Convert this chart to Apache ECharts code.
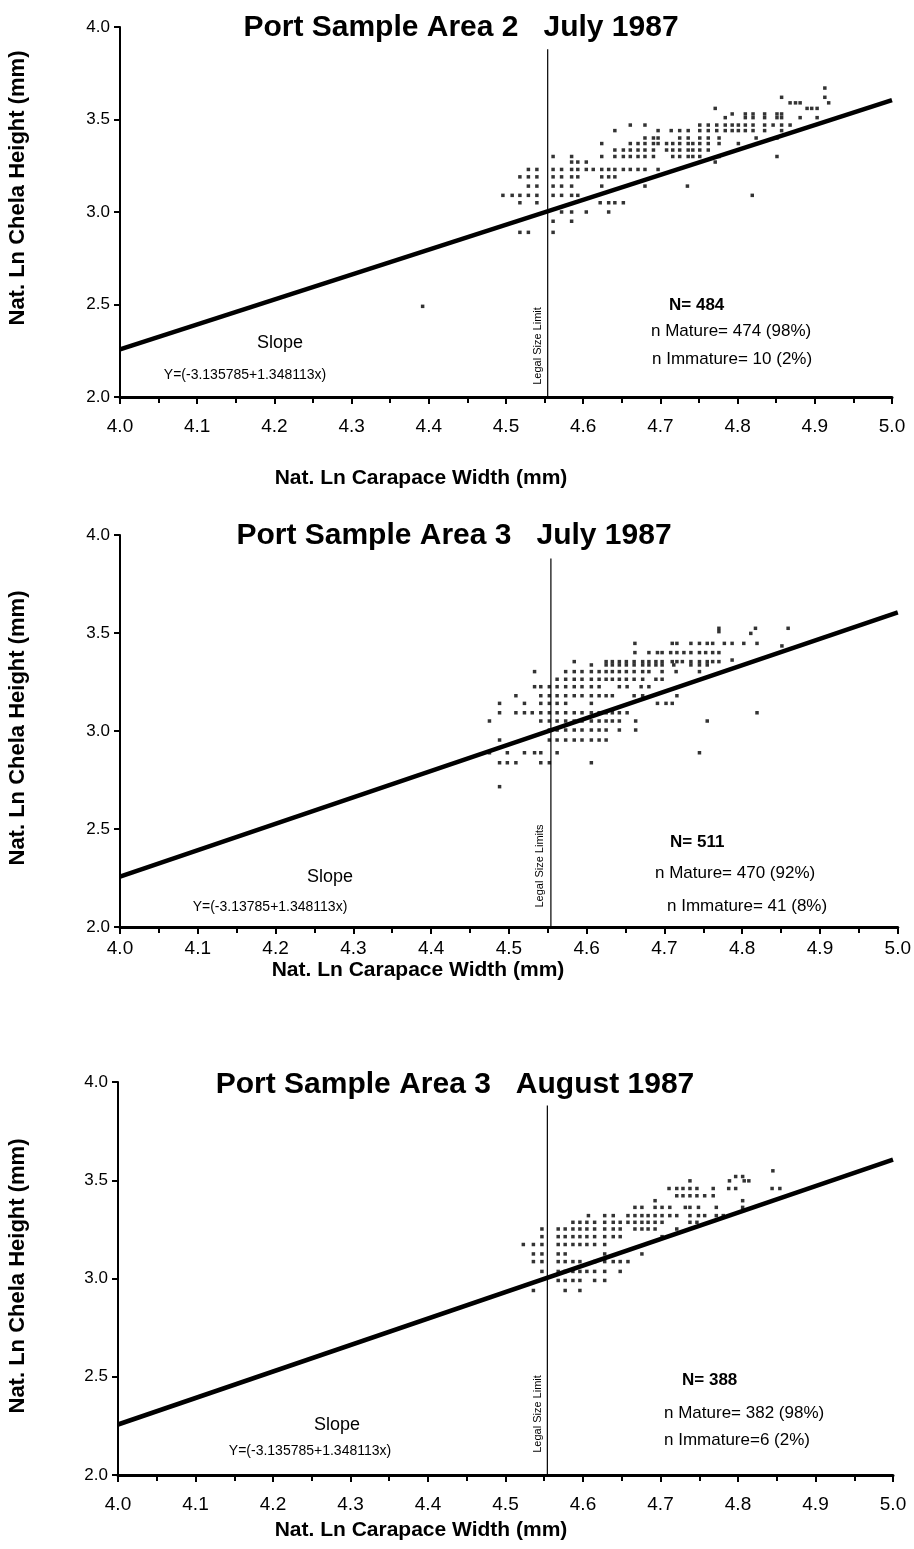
<!DOCTYPE html>
<html><head><meta charset="utf-8">
<script src="https://cdn.jsdelivr.net/npm/echarts@6/dist/echarts.min.js"></script>
<style>html,body{margin:0;padding:0;background:#fff}#c{width:914px;height:1549px}</style>
</head><body><div id="c"></div>
<script>
// ---------- data ----------
const xTickValues = [4.0, 4.1, 4.2, 4.3, 4.4, 4.5, 4.6, 4.7, 4.8, 4.9, 5.0];
const yTickValues = [2.0, 2.5, 3.0, 3.5, 4.0];
const legalSizeLimit = 4.554;
const legalLineTop = 3.88;
const regressionEnds = [[4.0, 2.257], [5.0, 3.605]];   // Y = -3.135785 + 1.348113x

const panelTitles = ['Port Sample Area 2   July 1987', 'Port Sample Area 3   July 1987', 'Port Sample Area 3   August 1987'];
const slopeTexts = ['Y=(-3.135785+1.348113x)', 'Y=(-3.13785+1.348113x)', 'Y=(-3.135785+1.348113x)'];
const legalTexts = ['Legal Size Limit', 'Legal Size Limits', 'Legal Size Limit'];
const nTexts = ['N= 484', 'N= 511', 'N= 388'];
const matureTexts = ['n Mature= 474 (98%)', 'n Mature= 470 (92%)', 'n Mature= 382 (98%)'];
const immatureTexts = ['n Immature= 10 (2%)', 'n Immature= 41 (8%)', 'n Immature=6 (2%)'];

// rows: [chela height (ln), [carapace widths (ln)]]
const area2JulyRows = [
  [3.67, [4.913]],
  [3.62, [4.857, 4.913]],
  [3.59, [4.868, 4.875, 4.881, 4.918]],
  [3.56, [4.771, 4.890, 4.896, 4.903]],
  [3.53, [4.793, 4.810, 4.820, 4.835, 4.851, 4.857]],
  [3.51, [4.784, 4.810, 4.820, 4.835, 4.851, 4.857, 4.881, 4.903]],
  [3.47, [4.661, 4.680, 4.751, 4.762, 4.773, 4.784, 4.793, 4.801, 4.810, 4.820, 4.835, 4.846, 4.857, 4.868]],
  [3.44, [4.641, 4.697, 4.714, 4.725, 4.736, 4.751, 4.762, 4.773, 4.784, 4.793, 4.801, 4.810, 4.820, 4.835, 4.857]],
  [3.40, [4.680, 4.691, 4.697, 4.725, 4.736, 4.751, 4.762, 4.776, 4.824, 4.851]],
  [3.37, [4.624, 4.661, 4.671, 4.680, 4.691, 4.697, 4.708, 4.716, 4.725, 4.736, 4.742, 4.751, 4.762, 4.776, 4.801]],
  [3.335, [4.641, 4.652, 4.661, 4.671, 4.680, 4.691, 4.708, 4.716, 4.725, 4.736, 4.742, 4.751, 4.762]],
  [3.30, [4.561, 4.585, 4.624, 4.641, 4.652, 4.661, 4.671, 4.680, 4.691, 4.716, 4.725, 4.736, 4.742, 4.751, 4.776, 4.851]],
  [3.27, [4.585, 4.593, 4.604, 4.771]],
  [3.23, [4.529, 4.540, 4.561, 4.572, 4.585, 4.593, 4.604, 4.613, 4.624, 4.633, 4.641, 4.652, 4.661, 4.671, 4.680, 4.697]],
  [3.19, [4.518, 4.529, 4.540, 4.561, 4.572, 4.585, 4.593, 4.624, 4.633, 4.641]],
  [3.14, [4.529, 4.540, 4.561, 4.572, 4.585, 4.624, 4.680, 4.735]],
  [3.09, [4.496, 4.508, 4.518, 4.529, 4.540, 4.561, 4.572, 4.585, 4.593, 4.819]],
  [3.05, [4.518, 4.540, 4.622, 4.633, 4.641, 4.652]],
  [3.00, [4.572, 4.585, 4.604, 4.633]],
  [2.95, [4.561, 4.585]],
  [2.89, [4.518, 4.529, 4.561]],
  [2.49, [4.392]]
];
const area3JulyRows = [
  [3.524, [4.770, 4.817, 4.859]],
  [3.507, [4.770]],
  [3.498, [4.811]],
  [3.447, [4.662, 4.710, 4.716, 4.734, 4.745, 4.755, 4.762, 4.777, 4.787, 4.802, 4.819]],
  [3.434, [4.851]],
  [3.400, [4.662, 4.680, 4.691, 4.697, 4.708, 4.716, 4.725, 4.734, 4.745, 4.753, 4.762, 4.770]],
  [3.362, [4.787]],
  [3.354, [4.584, 4.625, 4.633, 4.642, 4.651, 4.661, 4.672, 4.680, 4.689, 4.697, 4.710, 4.716, 4.723, 4.734, 4.745, 4.755, 4.762, 4.770]],
  [3.337, [4.606, 4.625, 4.633, 4.642, 4.651, 4.661, 4.672, 4.680, 4.689, 4.697, 4.712, 4.734, 4.745, 4.755]],
  [3.303, [4.533, 4.573, 4.584, 4.594, 4.606, 4.616, 4.625, 4.633, 4.642, 4.651, 4.661, 4.672, 4.680, 4.697, 4.715, 4.745]],
  [3.264, [4.562, 4.573, 4.584, 4.594, 4.606, 4.616, 4.625, 4.633, 4.642, 4.651, 4.661, 4.672, 4.689, 4.697]],
  [3.226, [4.533, 4.541, 4.552, 4.562, 4.573, 4.584, 4.594, 4.606, 4.616, 4.642, 4.652, 4.670, 4.680]],
  [3.180, [4.509, 4.541, 4.552, 4.562, 4.573, 4.584, 4.594, 4.606, 4.616, 4.625, 4.633, 4.661, 4.672, 4.716]],
  [3.141, [4.488, 4.520, 4.541, 4.552, 4.562, 4.573, 4.606, 4.691, 4.702, 4.710]],
  [3.093, [4.488, 4.509, 4.520, 4.530, 4.541, 4.552, 4.562, 4.573, 4.584, 4.594, 4.606, 4.616, 4.625, 4.633, 4.642, 4.652, 4.819]],
  [3.051, [4.475, 4.541, 4.552, 4.562, 4.573, 4.584, 4.594, 4.606, 4.616, 4.625, 4.633, 4.642, 4.663, 4.755]],
  [3.005, [4.552, 4.562, 4.573, 4.584, 4.594, 4.606, 4.616, 4.625, 4.642, 4.663]],
  [2.954, [4.488, 4.552, 4.562, 4.573, 4.584, 4.594, 4.606, 4.616, 4.625]],
  [2.889, [4.475, 4.498, 4.520, 4.533, 4.541, 4.562, 4.745]],
  [2.838, [4.488, 4.498, 4.509, 4.541, 4.552, 4.606]],
  [2.716, [4.488]]
];
const area3AugustRows = [
  [3.548, [4.845]],
  [3.519, [4.797, 4.806]],
  [3.497, [4.738, 4.789, 4.808, 4.814]],
  [3.458, [4.711, 4.721, 4.729, 4.738, 4.747, 4.768, 4.788, 4.797, 4.844, 4.854]],
  [3.421, [4.721, 4.729, 4.738, 4.747, 4.757, 4.768]],
  [3.396, [4.693, 4.806]],
  [3.362, [4.667, 4.676, 4.693, 4.702, 4.712, 4.732, 4.738, 4.749, 4.772, 4.806]],
  [3.320, [4.607, 4.628, 4.639, 4.658, 4.667, 4.676, 4.684, 4.693, 4.702, 4.712, 4.721, 4.738, 4.749, 4.757, 4.772, 4.781]],
  [3.286, [4.587, 4.596, 4.605, 4.615, 4.628, 4.639, 4.648, 4.658, 4.667, 4.676, 4.684, 4.693, 4.702, 4.738, 4.747]],
  [3.252, [4.547, 4.568, 4.577, 4.587, 4.596, 4.605, 4.615, 4.628, 4.639, 4.648, 4.667, 4.676, 4.684, 4.693, 4.721]],
  [3.213, [4.547, 4.568, 4.577, 4.587, 4.596, 4.605, 4.615, 4.628, 4.639, 4.648, 4.702]],
  [3.173, [4.523, 4.536, 4.547, 4.568, 4.577, 4.587, 4.596, 4.605, 4.615, 4.628]],
  [3.125, [4.536, 4.547, 4.568, 4.577, 4.628, 4.676]],
  [3.086, [4.536, 4.547, 4.568, 4.577, 4.587, 4.596, 4.615, 4.628, 4.639, 4.648, 4.658]],
  [3.036, [4.547, 4.568, 4.577, 4.587, 4.596, 4.605, 4.615, 4.628, 4.648]],
  [2.990, [4.568, 4.577, 4.587, 4.596, 4.615, 4.628]],
  [2.939, [4.536, 4.577, 4.596]]
];

// ---------- layout ----------
const FONT = '"Liberation Sans", Arial, Helvetica, sans-serif';
const grids = [
  {left: 120, top: 27,   width: 772, height: 370},
  {left: 120, top: 535,  width: 779, height: 392},
  {left: 118, top: 1082, width: 775, height: 393}
];
const labelMargins = [20, 12, 20];
const panelRows = [area2JulyRows, area3JulyRows, area3AugustRows];

function rowsToPoints(rows) {
  const pts = [];
  rows.forEach(([y, xs]) => xs.forEach(x => pts.push([x, y])));
  return pts;
}

const xAxes = [], yAxes = [], series = [];
grids.forEach((g, i) => {
  xAxes.push({
    type: 'value', gridIndex: i, min: xTickValues[0], max: xTickValues[xTickValues.length - 1], interval: 0.1,
    axisLine: {show: true, onZero: false, lineStyle: {color: '#000', width: 3}},
    axisTick: {show: true, length: 7, lineStyle: {color: '#000', width: 2}},
    minorTick: {show: true, splitNumber: 2, length: 6, lineStyle: {color: '#000', width: 2}},
    splitLine: {show: false},
    axisLabel: {color: '#000', fontSize: 19, fontFamily: FONT, margin: labelMargins[i],
      formatter: v => v.toFixed(1)}
  });
  yAxes.push({
    type: 'value', gridIndex: i, min: yTickValues[0], max: yTickValues[yTickValues.length - 1], interval: 0.5,
    axisLine: {show: true, onZero: false, lineStyle: {color: '#000', width: 2}},
    axisTick: {show: true, length: 6, lineStyle: {color: '#000', width: 2}},
    splitLine: {show: false},
    axisLabel: {color: '#000', fontSize: 17, fontFamily: FONT, margin: 10, formatter: v => v.toFixed(1)}
  });
  series.push({
    type: 'scatter', xAxisIndex: i, yAxisIndex: i, silent: true,
    symbol: 'rect', symbolSize: 3.5, itemStyle: {color: '#000'},
    data: rowsToPoints(panelRows[i]), z: 3
  });
  series.push({
    type: 'line', xAxisIndex: i, yAxisIndex: i, silent: true, showSymbol: false,
    lineStyle: {color: '#000', width: 4.5}, data: regressionEnds, z: 4
  });
  series.push({
    type: 'line', xAxisIndex: i, yAxisIndex: i, silent: true, showSymbol: false,
    lineStyle: {color: '#000', width: 1.2}, data: [[legalSizeLimit, yTickValues[0]], [legalSizeLimit, legalLineTop]], z: 2
  });
});

// annotation placement (pixels)
const textLayout = [
  {title: [461, 28], yName: [18, 188], xName: [421, 478], slope: [280, 343], eq: [245, 375], legal: [538, 346],
   n: [669, 305], mature: [651, 331], immature: [652, 359]},
  {title: [454, 536], yName: [18, 728], xName: [418, 970], slope: [330, 877], eq: [270, 907], legal: [540, 866],
   n: [670, 842], mature: [655, 873], immature: [667, 906]},
  {title: [455, 1085], yName: [18, 1276], xName: [421, 1530], slope: [337, 1425], eq: [310, 1451], legal: [538, 1414],
   n: [682, 1380], mature: [664, 1413], immature: [664, 1440]}
];

const graphic = [];
function txt(text, pos, opts) {
  graphic.push(Object.assign({
    type: 'text', x: pos[0], y: pos[1], silent: true,
    style: Object.assign({text: text, fill: '#000', font: opts.font, textAlign: opts.align || 'center', textVerticalAlign: 'middle'})
  }, opts.rotation ? {rotation: opts.rotation} : {}));
}
textLayout.forEach((t, i) => {
  txt(panelTitles[i], t.title, {font: 'bold 30px ' + FONT});
  txt('Nat. Ln Chela Height (mm)', t.yName, {font: 'bold 22px ' + FONT, rotation: Math.PI / 2});
  txt('Nat. Ln Carapace Width (mm)', t.xName, {font: 'bold 21px ' + FONT});
  txt('Slope', t.slope, {font: '18px ' + FONT});
  txt(slopeTexts[i], t.eq, {font: '14px ' + FONT});
  txt(legalTexts[i], t.legal, {font: '11px ' + FONT, rotation: Math.PI / 2});
  txt(nTexts[i], t.n, {font: 'bold 17px ' + FONT, align: 'left'});
  txt(matureTexts[i], t.mature, {font: '17px ' + FONT, align: 'left'});
  txt(immatureTexts[i], t.immature, {font: '17px ' + FONT, align: 'left'});
});

const chart = echarts.init(document.getElementById('c'), null, {renderer: 'canvas'});
chart.setOption({
  animation: false,
  backgroundColor: '#fff',
  grid: grids.map(g => Object.assign({containLabel: false}, g)),
  xAxis: xAxes,
  yAxis: yAxes,
  series: series,
  graphic: graphic
});
</script>
</body></html>
